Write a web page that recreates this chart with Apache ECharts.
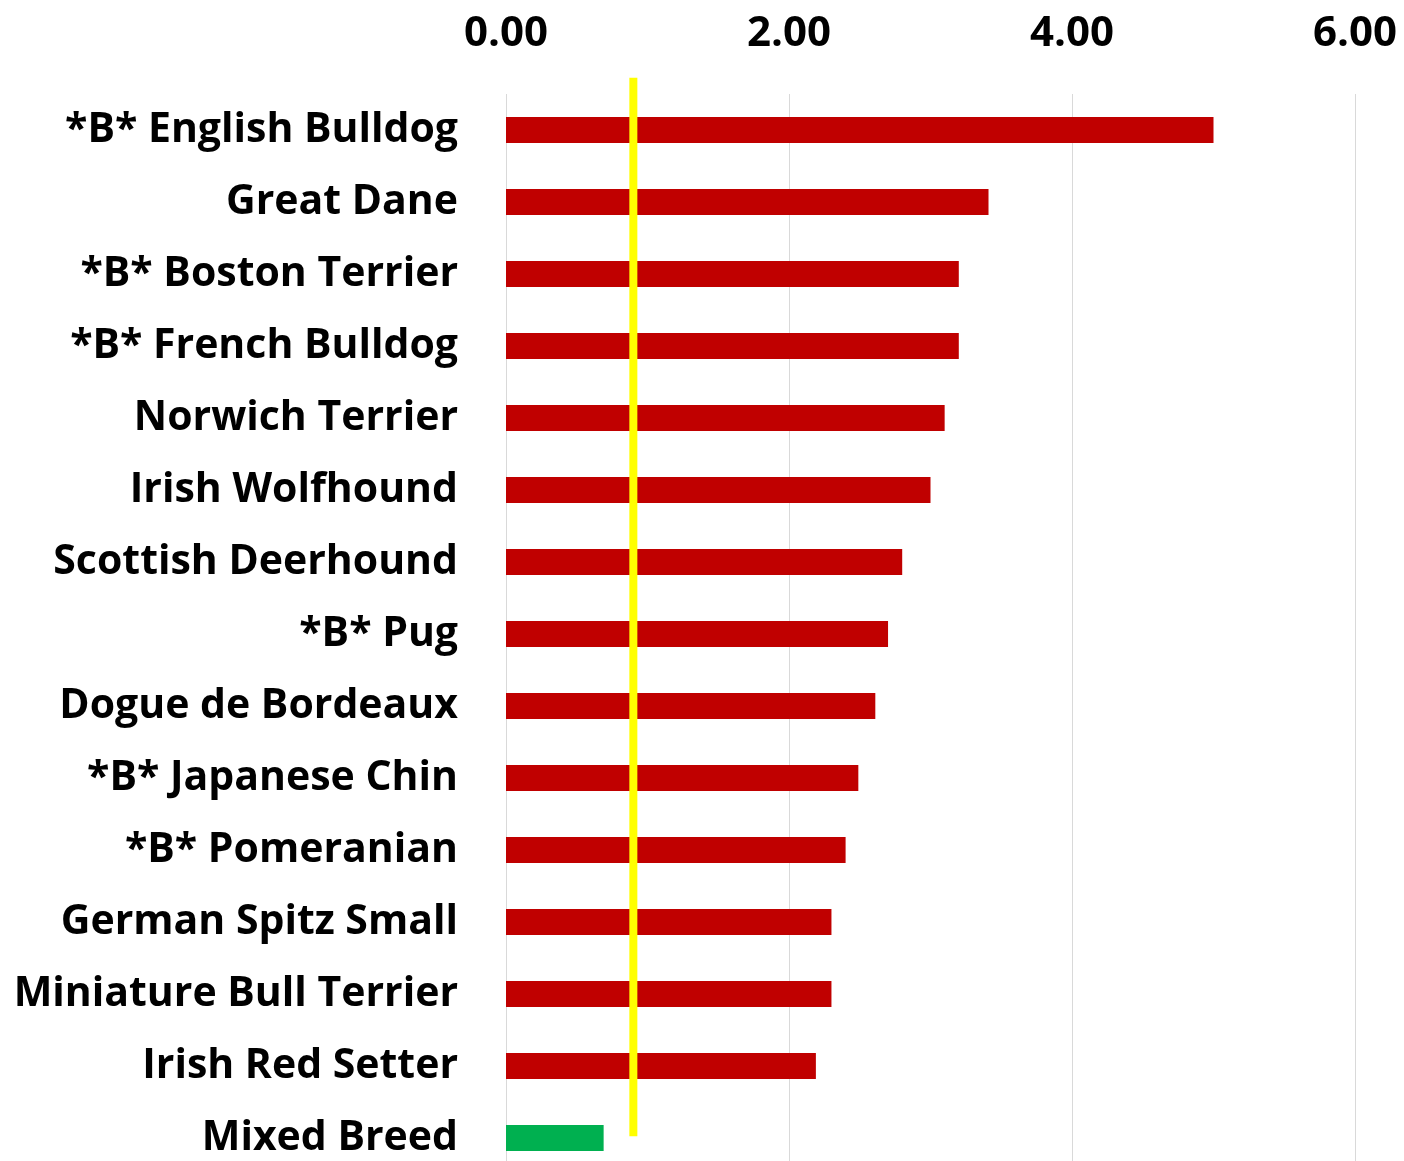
<!DOCTYPE html>
<html>
<head>
<meta charset="utf-8">
<script src="https://cdn.jsdelivr.net/npm/echarts@6/dist/echarts.min.js"></script>
<style>
  html, body { margin: 0; padding: 0; background: #fff; overflow: hidden; }
  #chart { width: 1404px; height: 1174px; }
</style>
</head>
<body>
<div id="chart"></div>
<script>
const breeds = [
  '*B* English Bulldog', 'Great Dane', '*B* Boston Terrier', '*B* French Bulldog',
  'Norwich Terrier', 'Irish Wolfhound', 'Scottish Deerhound', '*B* Pug',
  'Dogue de Bordeaux', '*B* Japanese Chin', '*B* Pomeranian', 'German Spitz Small',
  'Miniature Bull Terrier', 'Irish Red Setter', 'Mixed Breed'
];
const values = [5.00, 3.41, 3.20, 3.20, 3.10, 3.00, 2.80, 2.70, 2.61, 2.49, 2.40, 2.30, 2.30, 2.19, 0.69];
const barColors = ['#C00000','#C00000','#C00000','#C00000','#C00000','#C00000','#C00000','#C00000',
                   '#C00000','#C00000','#C00000','#C00000','#C00000','#C00000','#00B050'];
const refValue = 0.90;            // yellow reference line position on x axis
const refSpan = [-0.225, 14.475]; // vertical extent in category-band units
const xTicks = { min: 0, max: 6, interval: 2 };

const chart = echarts.init(document.getElementById('chart'), null, { renderer: 'canvas' });
const fontFam = '"Open Sans"';
chart.setOption({
  animation: false,
  grid: { left: 506, right: 49, top: 94, bottom: 0, containLabel: false },
  xAxis: {
    type: 'value', position: 'top',
    min: xTicks.min, max: xTicks.max, interval: xTicks.interval,
    axisLine: { show: false }, axisTick: { show: false },
    splitLine: { show: true, lineStyle: { color: '#D9D9D9', width: 1 } },
    axisLabel: {
      formatter: v => v.toFixed(2),
      fontFamily: fontFam, fontWeight: 'bold', fontSize: 42, color: '#000', margin: 39
    }
  },
  yAxis: [{
    type: 'category', data: breeds, inverse: true,
    axisLine: { show: false }, axisTick: { show: false }, splitLine: { show: false },
    axisLabel: { fontFamily: fontFam, fontWeight: 'bold', fontSize: 41, color: '#000', margin: 48,
                 padding: [6, 0, 0, 0] }
  }, {
    type: 'value', min: 0, max: 15, inverse: true, show: false
  }],
  series: [{
    type: 'bar', yAxisIndex: 0, barWidth: 26,
    data: values.map((v, i) => ({ value: v, itemStyle: { color: barColors[i] } }))
  }, {
    type: 'line', yAxisIndex: 1, xAxisIndex: 0, clip: false, symbol: 'none', z: 5,
    lineStyle: { color: '#FFFF00', width: 8 },
    data: [[refValue, refSpan[0]], [refValue, refSpan[1]]]
  }]
});
</script>
</body>
</html>
